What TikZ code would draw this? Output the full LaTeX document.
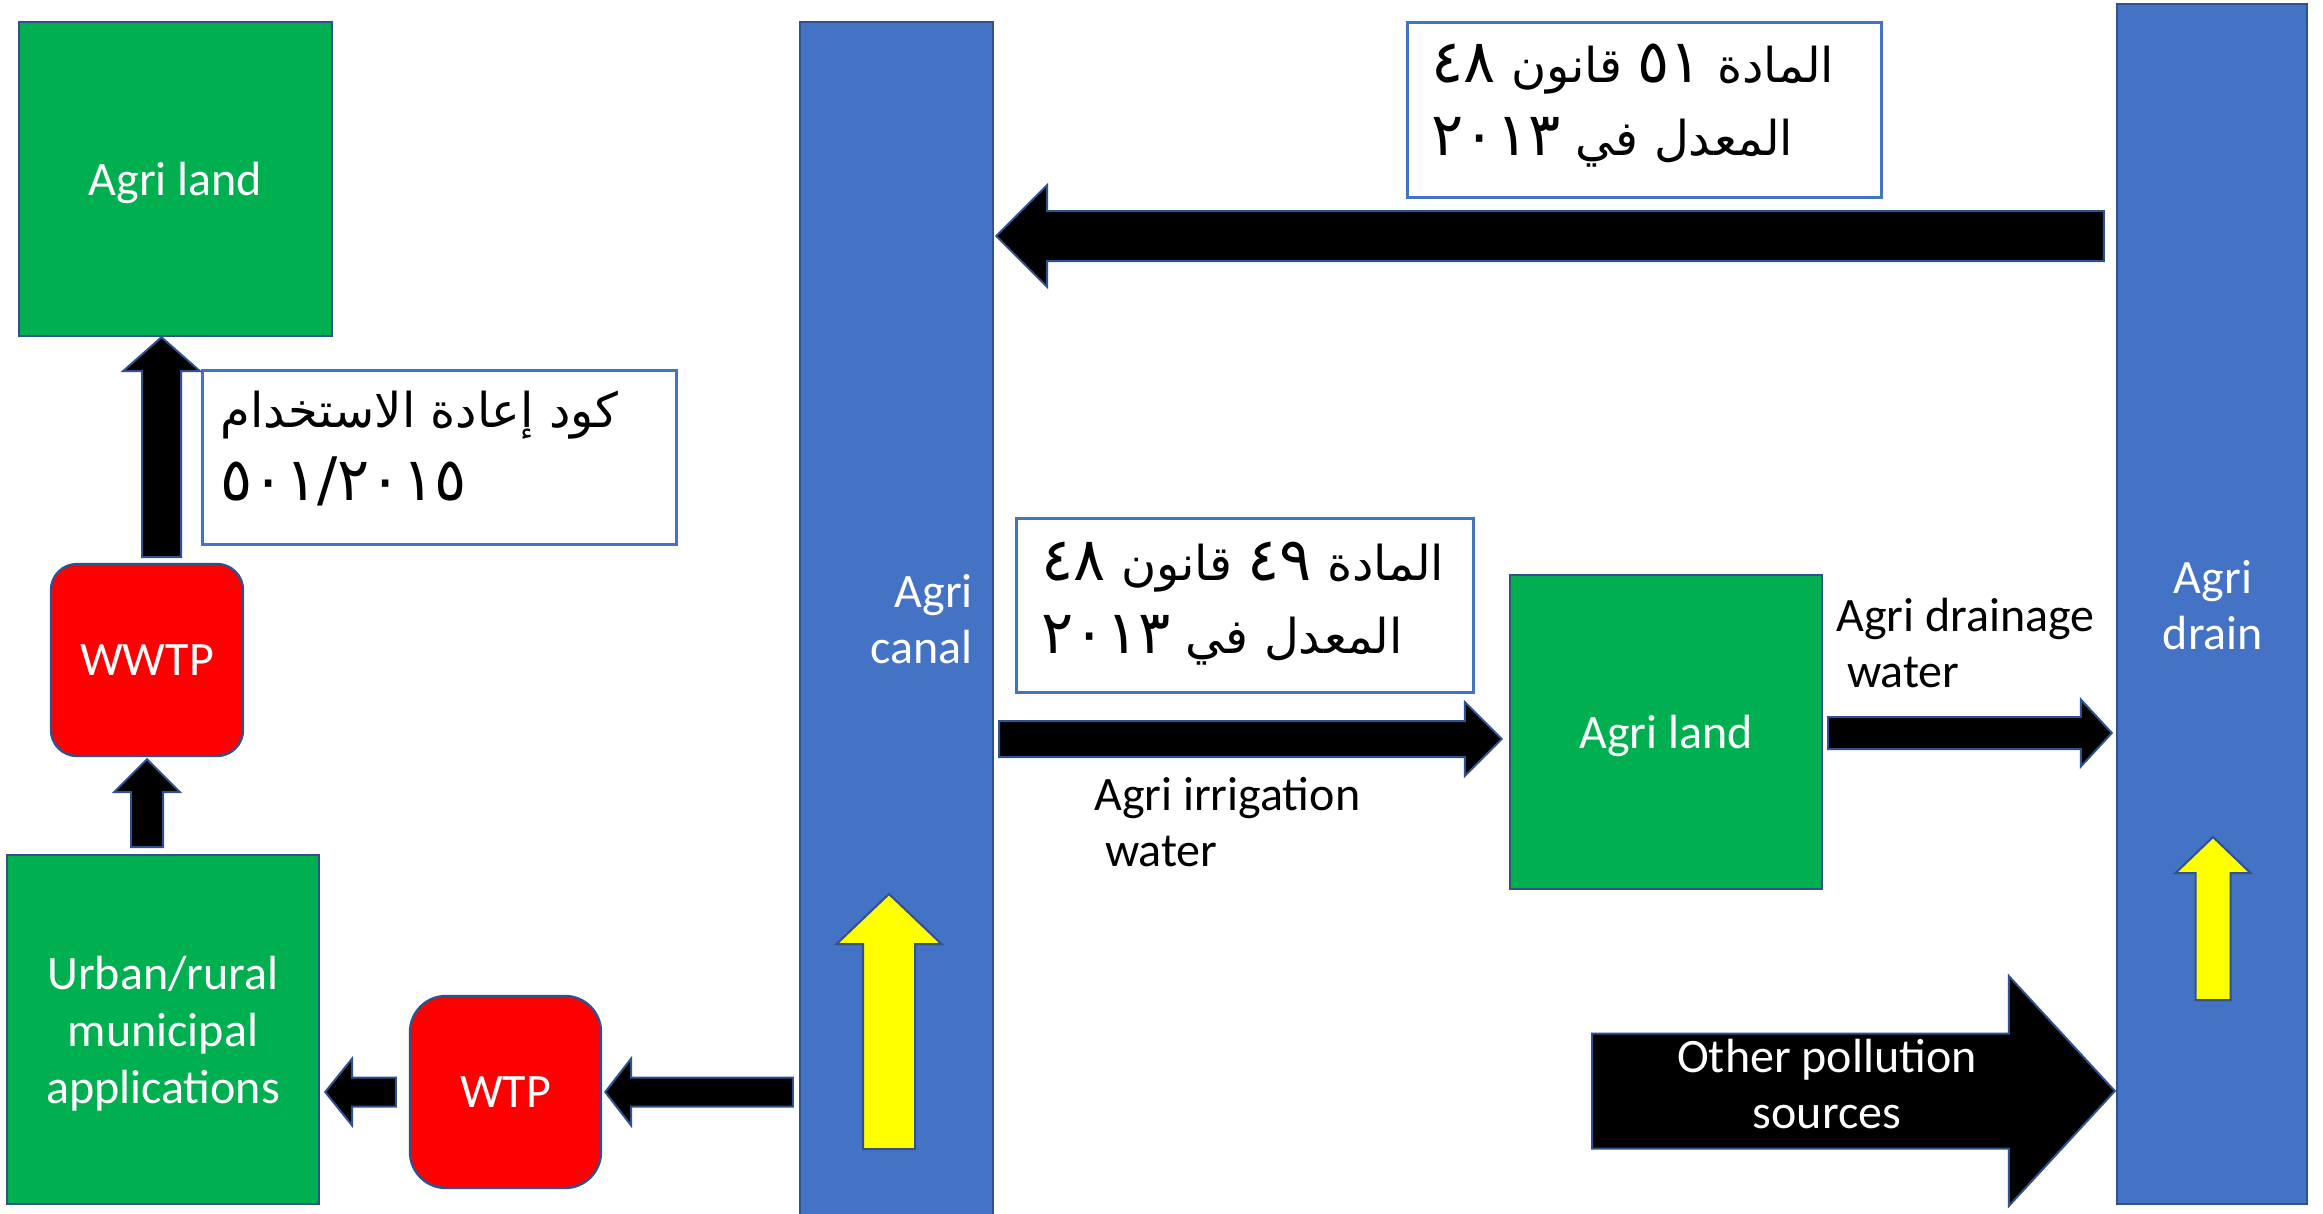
\documentclass[tikz,border=0pt]{standalone}
\usepackage{fontspec}
\setmainfont{Carlito}
\newfontfamily\arabicfont[Script=Arabic]{DejaVu Sans}
\TeXXeTstate=1
\usetikzlibrary{calc}

\definecolor{landgreen}{HTML}{00B050}
\definecolor{waterblue}{HTML}{4472C4}
\definecolor{edgeblue}{HTML}{2F528F}
\definecolor{plantred}{HTML}{FF0000}
\definecolor{flowyellow}{HTML}{FFFF00}

% Arabic-Indic numerals are set a little larger than the letters
\newcommand{\ardigits}[1]{{\fontsize{60}{73}\selectfont#1}}

% Horizontal block arrow: style, tail, tip, shaft half-width, head half-width, head length
\newcommand{\flowH}[6]{%
  \path[#1] let \p1=(#2), \p2=(#3), \n1={ifthenelse(\x2>\x1,1,-1)} in
    (\x1,\y1+#4pt) -- (\x2-\n1*#6pt,\y1+#4pt) -- (\x2-\n1*#6pt,\y1+#5pt)
    -- (\x2,\y1) -- (\x2-\n1*#6pt,\y1-#5pt) -- (\x2-\n1*#6pt,\y1-#4pt)
    -- (\x1,\y1-#4pt) -- cycle;}
% Vertical block arrow, same arguments
\newcommand{\flowV}[6]{%
  \path[#1] let \p1=(#2), \p2=(#3), \n1={ifthenelse(\y2>\y1,1,-1)} in
    (\x1+#4pt,\y1) -- (\x1+#4pt,\y2-\n1*#6pt) -- (\x1+#5pt,\y2-\n1*#6pt)
    -- (\x1,\y2) -- (\x1-#5pt,\y2-\n1*#6pt) -- (\x1-#4pt,\y2-\n1*#6pt)
    -- (\x1-#4pt,\y1) -- cycle;}

\begin{document}
\begin{tikzpicture}[x=1pt,y=-1pt,
  unit/.style={draw=edgeblue, line width=2.4pt, inner sep=0pt, text=white,
    font=\fontsize{48}{57}\selectfont, align=center, text depth=0pt},
  landbox/.style={unit, fill=landgreen},
  plant/.style={unit, fill=plantred},
  channel/.style={unit, fill=waterblue},
  notebox/.style={draw=waterblue, line width=3pt, fill=white, inner sep=0pt},
  notetext/.style={inner sep=0pt, anchor=base west, align=left,
    font=\arabicfont\fontsize{48}{73}\selectfont},
  caption/.style={inner sep=0pt, font=\fontsize{48}{56}\selectfont},
  blackflow/.style={fill=black, draw=edgeblue, line width=2pt},
  yellowflow/.style={fill=flowyellow, draw=edgeblue, line width=2pt}]

\path[fill=white] (0,0) rectangle (2323,1213);
\useasboundingbox (0,0) rectangle (2323,1213);

% water bodies
\node[channel, minimum width=193pt, minimum height=1210pt] (canal) at (896.5,627) {};
\node[channel, minimum width=190pt, minimum height=1200pt] (drain) at (2212,604) {};
% multi-line captions are anchored on the baseline of their last line
\node[caption, text=white, anchor=base east, align=right] (canaltext) at (973,663) {Agri\\canal};
\node[caption, text=white, anchor=base, align=center] (draintext) at (2213,649) {Agri\\drain};

% flow direction inside the channels
\coordinate (cflowtail) at (889,1149);
\coordinate (cflowtip) at (889,894);
\flowV{yellowflow}{cflowtail}{cflowtip}{26}{52.5}{50}
\coordinate (dflowtail) at (2213,1000);
\coordinate (dflowtip) at (2213,837);
\flowV{yellowflow}{dflowtail}{dflowtip}{17.5}{37.5}{36}

% land and treatment units
\node[landbox, minimum width=313pt, minimum height=314pt] (land1) at (175.5,179) {Agri land};
\node[landbox, minimum width=312pt, minimum height=314pt] (land2) at (1666,732) {Agri land};
\node[landbox, minimum width=312pt, minimum height=349pt] (urban) at (163,1029.5) {Urban/rural\\municipal\\applications};
\node[plant, rounded corners=26pt, minimum width=192pt, minimum height=192pt] (wwtp) at (147,660) {WWTP};
\node[plant, rounded corners=36pt, minimum width=191pt, minimum height=192pt] (wtp) at (505.5,1092) {WTP};

% regulation notes
\node[notebox, minimum width=474pt, minimum height=175pt] (law51) at (1644,109.5) {};
\node[notetext] (law51text) at ($(law51.north west)+(26,135)$)
  {\beginR المادة \ardigits{٥١} قانون \ardigits{٤٨}\endR\\\beginR المعدل في \ardigits{٢٠١٣}\endR};
\node[notebox, minimum width=457pt, minimum height=174pt] (law49) at (1244.5,605) {};
\node[notetext] (law49text) at ($(law49.north west)+(27,137)$)
  {\beginR المادة \ardigits{٤٩} قانون \ardigits{٤٨}\endR\\\beginR المعدل في \ardigits{٢٠١٣}\endR};
\node[notebox, minimum width=474pt, minimum height=174pt] (reuse) at (439,457) {};
\node[notetext] (reusetext) at ($(reuse.north west)+(20,132)$)
  {\beginR كود إعادة الاستخدام\endR\\\beginL\ardigits{٥٠١/٢٠١٥}\endL{}};

% helper levels
\coordinate (lvltop) at (0,236);
\coordinate (lvlirr) at (0,739);
\coordinate (lvldrn) at (0,733);
\coordinate (lvlpol) at (0,1091);

% drain water returned to the canal
\coordinate (backtail) at ($(drain.west |- lvltop)+(-12,0)$);
\coordinate (backtip) at ($(canal.east |- lvltop)+(2,0)$);
\flowH{blackflow}{backtail}{backtip}{25}{51}{51}

% irrigation and drainage
\coordinate (irrtail) at ($(canal.east |- lvlirr)+(5,0)$);
\coordinate (irrtip) at ($(land2.west |- lvlirr)+(-7,0)$);
\flowH{blackflow}{irrtail}{irrtip}{18}{37}{37}
\coordinate (drntail) at ($(land2.east |- lvldrn)+(5,0)$);
\coordinate (drntip) at ($(drain.west |- lvldrn)+(-4,0)$);
\flowH{blackflow}{drntail}{drntip}{16}{33.5}{31}
\node[caption, anchor=base west, align=left] (irrtext) at (1094,866) {Agri irrigation\\\ water};
\node[caption, anchor=base west, align=left] (drntext) at (1836,687) {Agri drainage\\\ water};

% other pollution into the drain
\coordinate (poltail) at (1592,1091);
\coordinate (poltip) at ($(drain.west |- lvlpol)+(-1,0)$);
\flowH{blackflow}{poltail}{poltip}{57.5}{115}{106}
\node[caption, text=white, anchor=base, align=center] (poltext) at (1827,1128) {Other pollution\\sources};

% municipal supply chain
\coordinate (suptail) at ($(canal.west |- wtp.east)+(-6,0)$);
\coordinate (suptip) at ($(wtp.east)+(3,0)$);
\flowH{blackflow}{suptail}{suptip}{14.5}{33.5}{26}
\coordinate (usetail) at ($(wtp.west)+(-13,0)$);
\coordinate (usetip) at ($(urban.east |- wtp.west)+(5,0)$);
\flowH{blackflow}{usetail}{usetip}{14.5}{33.5}{27}

% wastewater to treatment and reuse on land
\coordinate (wwtail) at (147,847);
\coordinate (wwtip) at ($(wwtp.south)+(0,2)$);
\flowV{blackflow}{wwtail}{wwtip}{16}{33}{33}
\coordinate (reusetail) at (161.5,557);
\coordinate (reusetip) at (reusetail |- land1.south);
\flowV{blackflow}{reusetail}{reusetip}{19.5}{38.5}{34}

\end{tikzpicture}
\end{document}
